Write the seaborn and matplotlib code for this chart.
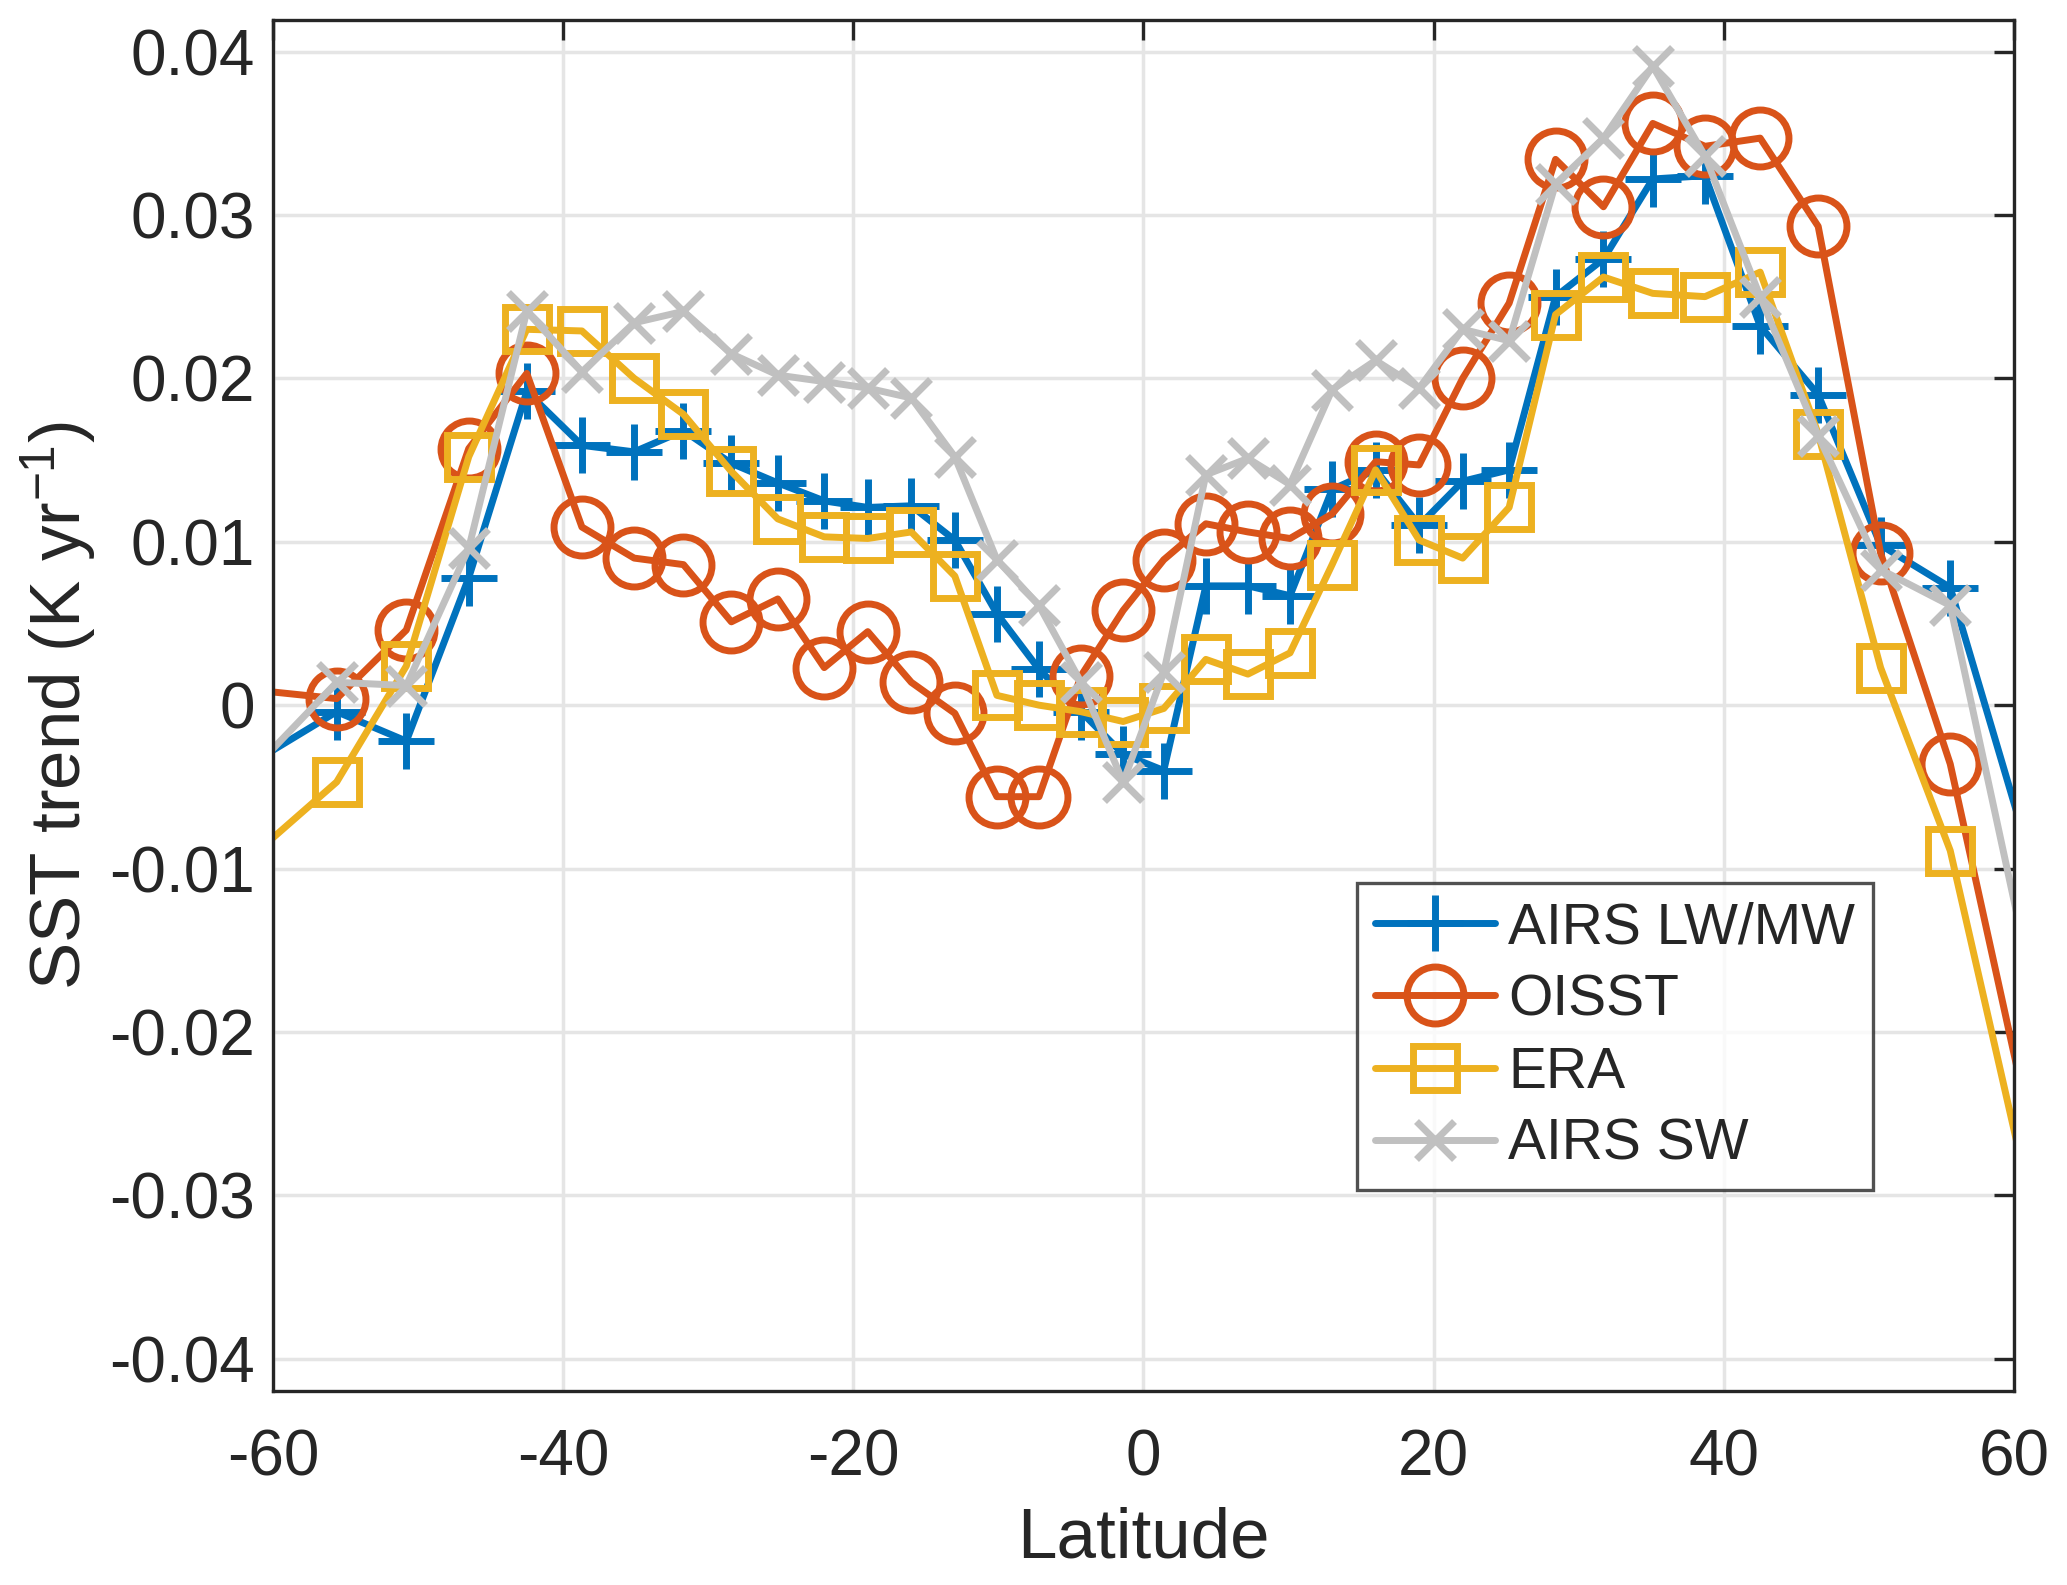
import matplotlib
matplotlib.use('Agg')
import matplotlib.pyplot as plt
from matplotlib.lines import Line2D
import seaborn as sns

# latitude bin centres (equal-area bins), first/last fall just outside the axis
lat = [-61.0, -55.6, -50.8, -46.5, -42.5, -38.7, -35.1, -31.7, -28.4, -25.2, -22.0, -19.0,
       -16.0, -13.0, -10.1, -7.2, -4.3, -1.4, 1.4, 4.3, 7.2, 10.1, 13.0, 16.0,
       19.0, 22.0, 25.2, 28.4, 31.7, 35.1, 38.7, 42.5, 46.5, 50.8, 55.6, 61.0]

airs_lwmw = [-0.0033, -0.0004, -0.0022, 0.0078, 0.0192, 0.0159, 0.0155, 0.0168, 0.0148, 0.0136, 0.0125, 0.0121,
             0.0122, 0.0101, 0.0056, 0.0022, -0.0004, -0.0030, -0.0040, 0.0073, 0.0073, 0.0067, 0.0132, 0.0144,
             0.0110, 0.0137, 0.0144, 0.0250, 0.0273, 0.0322, 0.0324, 0.0232, 0.0190, 0.0098, 0.0072, -0.0090]
oisst = [0.0009, 0.0004, 0.0046, 0.0157, 0.0203, 0.0109, 0.0090, 0.0086, 0.0051, 0.0065, 0.0023, 0.0045,
         0.0014, -0.0005, -0.0056, -0.0056, 0.0018, 0.0058, 0.0089, 0.0111, 0.0106, 0.0102, 0.0117, 0.0149,
         0.0147, 0.0200, 0.0246, 0.0334, 0.0305, 0.0356, 0.0342, 0.0347, 0.0293, 0.0093, -0.0036, -0.0254]
era = [-0.0089, -0.0047, 0.0024, 0.0152, 0.0230, 0.0229, 0.0200, 0.0178, 0.0143, 0.0114, 0.0103, 0.0102,
       0.0106, 0.0079, 0.0006, 0.0000, -0.0004, -0.0010, -0.0002, 0.0028, 0.0019, 0.0032, 0.0086, 0.0144,
       0.0101, 0.0090, 0.0121, 0.0239, 0.0262, 0.0252, 0.0250, 0.0265, 0.0166, 0.0023, -0.0089, -0.0299]
airs_sw = [-0.0036, 0.0014, 0.0012, 0.0096, 0.0241, 0.0204, 0.0234, 0.0241, 0.0215, 0.0202, 0.0198, 0.0194,
           0.0188, 0.0152, 0.0089, 0.0061, 0.0014, -0.0047, 0.0020, 0.0141, 0.0151, 0.0135, 0.0193, 0.0211,
           0.0194, 0.0230, 0.0223, 0.0319, 0.0347, 0.0391, 0.0336, 0.0250, 0.0165, 0.0083, 0.0061, -0.0161]

series = [
    ('AIRS LW/MW', airs_lwmw, '#0072BD', '+', 40),
    ('OISST', oisst, '#D95319', 'o', 41),
    ('ERA', era, '#EDB120', 's', 31),
    ('AIRS SW', airs_sw, '#C0C0C0', 'x', 28),
]

sns.set_style('white')
plt.rcParams['font.family'] = ['Liberation Sans', 'DejaVu Sans']
plt.rcParams['mathtext.default'] = 'regular'
plt.rcParams['axes.unicode_minus'] = False
ink = '#262626'

fig = plt.figure(figsize=(20.67, 15.85), dpi=100)
ax = fig.add_axes([0.132, 0.1227, 0.8424, 0.8648])

inner = list(range(1, len(lat) - 1))  # the end points sit outside the axis, no marker
handles = []
for name, vals, col, mk, ms in series:
    sns.lineplot(x=lat, y=vals, ax=ax, color=col, linewidth=5, marker=mk,
                 markersize=ms, markerfacecolor='none', markeredgecolor=col,
                 markeredgewidth=5, markevery=inner, sort=False)
    handles.append(Line2D([], [], color=col, linewidth=5, marker=mk, markersize=ms,
                          markerfacecolor='none', markeredgecolor=col,
                          markeredgewidth=5, label=name))

ax.set_xlim(-60, 60)
ax.set_ylim(-0.04194, 0.04194)
ax.set_xticks(range(-60, 61, 20))
ax.set_yticks([-0.04, -0.03, -0.02, -0.01, 0, 0.01, 0.02, 0.03, 0.04])
ax.set_yticklabels(['-0.04', '-0.03', '-0.02', '-0.01', '0', '0.01', '0.02', '0.03', '0.04'])
ax.grid(True, color='#E5E5E5', linewidth=2.5)
ax.set_axisbelow(True)
for s in ax.spines.values():
    s.set_color(ink)
    s.set_linewidth(2.4)
ax.tick_params(direction='in', length=14.5, width=2.4, colors=ink, labelsize=46,
               top=True, right=True)
ax.tick_params(axis='x', pad=27)
ax.tick_params(axis='y', pad=13)
ax.set_xlabel('Latitude', fontsize=51, color=ink, labelpad=13)
ax.set_ylabel('SST trend (K yr$^{-1}$)', fontsize=51, color=ink, labelpad=7)

leg = ax.legend(handles=handles, loc='upper left', bbox_to_anchor=(0.6227, 0.3703),
                fontsize=41, frameon=True, fancybox=False, edgecolor=ink,
                handlelength=2.1, handletextpad=0.23, borderpad=0.32,
                labelspacing=0.32, borderaxespad=0)
leg.get_frame().set_linewidth(2.4)

fig.savefig('out.png', dpi=100)
